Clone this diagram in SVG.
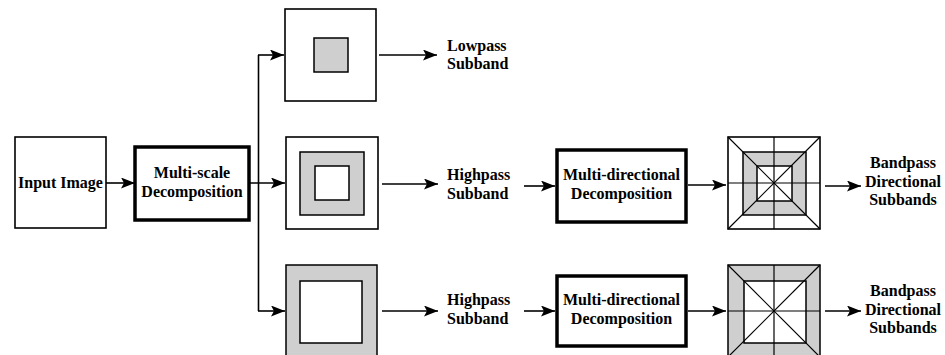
<svg xmlns="http://www.w3.org/2000/svg" width="945" height="355" viewBox="0 0 945 355">
<style>
text{font-family:"Liberation Serif","Times New Roman",serif;font-weight:bold;font-size:16px;fill:#000}
.box{fill:#fff;stroke:#000;stroke-width:1.6}
.thick{fill:#fff;stroke:#000;stroke-width:3.5}
.gray{fill:#cfcfcf;stroke:#000;stroke-width:1.5}
.wh{fill:#fff;stroke:#000;stroke-width:1.5}
.ln{fill:none;stroke:#000;stroke-width:1.6}
.gl{fill:none;stroke:#000;stroke-width:1.2}
</style>
<defs>
<marker id="ah" markerUnits="userSpaceOnUse" markerWidth="14" markerHeight="11" refX="14" refY="5.5" orient="auto">
<path d="M0,0 L14,5.5 L0,11 L3,5.5 z" fill="#000"/>
</marker>
</defs>
<g id="input-image">
<rect class="box" x="15" y="137" width="91" height="91"/>
<text x="60.5" y="188" text-anchor="middle">Input Image</text>
</g>
<g id="multi-scale">
<rect class="thick" x="135" y="147" width="114" height="73"/>
<text x="192" y="178" text-anchor="middle">Multi-scale</text>
<text x="192" y="197" text-anchor="middle">Decomposition</text>
</g>
<g id="lowpass-box">
<rect class="box" x="285" y="9" width="91" height="92"/>
<rect class="gray" x="314" y="38" width="34" height="34"/>
</g>
<g id="lowpass-label">
<text x="447" y="51">Lowpass</text>
<text x="447" y="69">Subband</text>
</g>
<g id="highpass-box-1">
<rect class="box" x="286" y="137" width="92" height="92"/>
<rect class="gray" x="300" y="152" width="64" height="63"/>
<rect class="wh" x="315" y="166" width="34" height="34"/>
</g>
<g id="highpass-label-1">
<text x="447" y="180">Highpass</text>
<text x="447" y="199">Subband</text>
</g>
<g id="highpass-box-2">
<rect class="gray" x="286" y="265" width="91" height="92"/>
<rect class="wh" x="300" y="281" width="62" height="62"/>
</g>
<g id="highpass-label-2">
<text x="447" y="305">Highpass</text>
<text x="447" y="324">Subband</text>
</g>
<g id="multi-directional-1">
<rect class="thick" x="557" y="150" width="129" height="72"/>
<text x="621.5" y="180" text-anchor="middle">Multi-directional</text>
<text x="621.5" y="199" text-anchor="middle">Decomposition</text>
</g>
<g id="multi-directional-2">
<rect class="thick" x="557" y="276" width="129" height="70"/>
<text x="621.5" y="305" text-anchor="middle">Multi-directional</text>
<text x="621.5" y="324" text-anchor="middle">Decomposition</text>
</g>
<g id="directional-grid-1">
<rect class="box" x="728" y="137" width="92" height="92"/>
<rect class="gray" x="743" y="152" width="63" height="63"/>
<rect class="wh" x="757" y="166" width="35" height="35"/>
<line class="gl" x1="728" y1="137" x2="820" y2="229"/>
<line class="gl" x1="820" y1="137" x2="728" y2="229"/>
<line class="gl" x1="728" y1="183" x2="820" y2="183"/>
<line class="gl" x1="774" y1="137" x2="774" y2="229"/>
</g>
<g id="bandpass-label-1">
<text x="903" y="168" text-anchor="middle">Bandpass</text>
<text x="903" y="187" text-anchor="middle">Directional</text>
<text x="903" y="205" text-anchor="middle">Subbands</text>
</g>
<g id="directional-grid-2">
<rect class="gray" x="728" y="265" width="92" height="92"/>
<rect class="wh" x="744" y="281" width="62" height="62"/>
<line class="gl" x1="728" y1="265" x2="820" y2="357"/>
<line class="gl" x1="820" y1="265" x2="728" y2="357"/>
<line class="gl" x1="728" y1="311" x2="820" y2="311"/>
<line class="gl" x1="774" y1="265" x2="774" y2="357"/>
</g>
<g id="bandpass-label-2">
<text x="903" y="296" text-anchor="middle">Bandpass</text>
<text x="903" y="315" text-anchor="middle">Directional</text>
<text x="903" y="333" text-anchor="middle">Subbands</text>
</g>
<g id="connectors">
<line class="ln" x1="106" y1="183" x2="135" y2="183" marker-end="url(#ah)"/>
<line class="ln" x1="249" y1="183" x2="285" y2="183" marker-end="url(#ah)"/>
<line class="ln" x1="258.5" y1="55" x2="258.5" y2="311"/>
<line class="ln" x1="258" y1="55" x2="284" y2="55" marker-end="url(#ah)"/>
<line class="ln" x1="258" y1="311" x2="285" y2="311" marker-end="url(#ah)"/>
<line class="ln" x1="379" y1="55" x2="437" y2="55" marker-end="url(#ah)"/>
<line class="ln" x1="382" y1="184" x2="438" y2="184" marker-end="url(#ah)"/>
<line class="ln" x1="382" y1="311" x2="438" y2="311" marker-end="url(#ah)"/>
<line class="ln" x1="524" y1="186" x2="555" y2="186" marker-end="url(#ah)"/>
<line class="ln" x1="524" y1="311" x2="555" y2="311" marker-end="url(#ah)"/>
<line class="ln" x1="688" y1="185" x2="726" y2="185" marker-end="url(#ah)"/>
<line class="ln" x1="688" y1="311" x2="726" y2="311" marker-end="url(#ah)"/>
<line class="ln" x1="825" y1="186" x2="861" y2="186" marker-end="url(#ah)"/>
<line class="ln" x1="825" y1="311" x2="861" y2="311" marker-end="url(#ah)"/>
</g>
</svg>
